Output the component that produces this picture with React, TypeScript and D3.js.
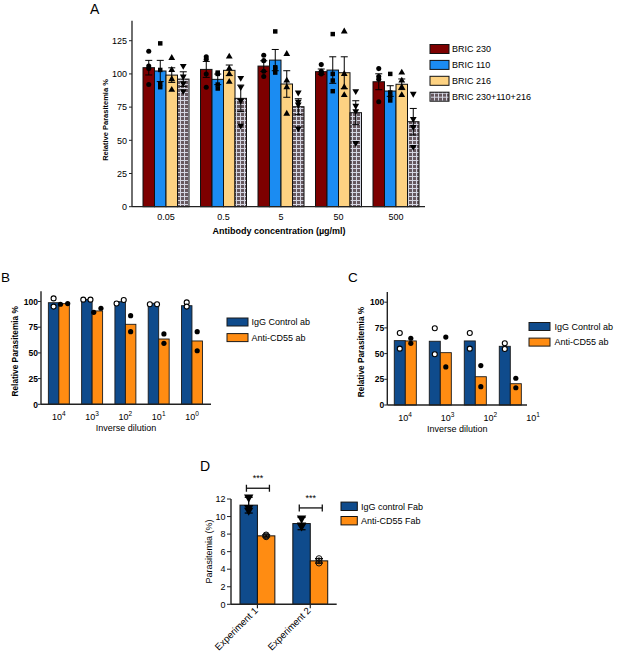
import * as d3 from "d3";
import React from "react";

const FONT = "'Liberation Sans', Arial, Helvetica, sans-serif";

// ---- panel A data
const concLabels = ["0.05", "0.5", "5", "50", "500"];
const bricSeries = ["BRIC 230", "BRIC 110", "BRIC 216", "BRIC 230+110+216"];
const bric230Mean = [104.7, 103.4, 105.9, 101.7, 94.1];
const bric110Mean = [102.2, 95.9, 110.4, 102.9, 87.1];
const bric216Mean = [99.1, 102.7, 92.4, 100.9, 92.2];
const comboMean = [96.1, 81.6, 75.3, 70.8, 64];
const bric230Sem = [5.5, 6, 4, 2, 6];
const bric110Sem = [8, 4, 8, 10, 4];
const bric216Sem = [5.5, 4, 10, 12, 4];
const comboSem = [5.5, 10, 6, 9, 10];
const bric230Pts = [[117, 106, 104, 92], [113, 111, 100, 90], [114, 110, 102, 98], [107, 102, 101, 100], [104, 98, 96, 79]];
const bric110Pts = [[123, 103, 93, 90], [101, 100, 92, 89], [132, 105, 104, 101], [130, 100, 95, 87], [100, 86, 83, 80]];
const bric216Pts = [[112, 103, 96, 88], [113, 104, 100, 94], [115, 95, 90, 70], [132, 100, 90, 84], [101, 95, 90, 84]];
const comboPts = [[106, 98, 93, 87], [97, 90, 80, 61], [86, 79, 77, 59], [87, 76, 72, 48], [85, 66, 60, 45]];
const ticksA = [0, 25, 50, 75, 100, 125];

// ---- panel B data
const dilB = ["4", "3", "2", "1", "0"];
const igGB = [98.8, 102, 99.8, 98.2, 95.9];
const cd55B = [97.9, 90.8, 77.8, 63.5, 61.6];
const igGBPts = [[103, 95], [101.8, 101.8], [98.1, 101.4], [97.3, 97.3], [99.1, 95]];
const cd55BPts = [[97.3, 98], [89.5, 93.4], [86.2, 70.6], [68.4, 59.3], [70.6, 52.1]];

// ---- panel C data
const dilC = ["4", "3", "2", "1"];
const igGC = [62.6, 62, 62.3, 57.1];
const cd55C = [62.3, 50.9, 27.5, 20.7];
const igGCPts = [[70, 54.8], [74.6, 49.3], [70, 54.8], [60, 54.5]];
const cd55CPts = [[64.9, 60], [66.1, 37], [38.3, 17.8], [26, 16.8]];
const ticksBC = [0, 25, 50, 75, 100];
const abLegend = ["IgG Control ab", "Anti-CD55 ab"];

// ---- panel D data
const expLabels = ["Experiment 1", "Experiment 2"];
const igGFab = [11.3, 9.2];
const igGFabErr = [0.9, 0.7];
const igGFabPts = [[12.2, 11.0, 10.7], [9.8, 9.0, 8.9]];
const cd55Fab = [7.8, 4.95];
const cd55FabErr = [0.12, 0.25];
const cd55FabPts = [[7.9, 7.8, 7.7], [5.2, 4.95, 4.7]];
const sigLabels = ["***", "***"];
const ticksD = [0, 2, 4, 6, 8, 10, 12];
const fabLegend = ["IgG control Fab", "Anti-CD55 Fab"];

const AXIS = "#222";
const NAVY = "#0f4b8c";
const ORANGE = "#ff8c12";

const symCircle = d3.symbol(d3.symbolCircle, 20)()!;
const symSquare = d3.symbol(d3.symbolSquare, 20)()!;
const symTri = d3.symbol(d3.symbolTriangle, 20)()!;
const symTriD = d3.symbol(d3.symbolTriangle, 38)()!;

function ErrBar({ x, y0, y1, cap, w = 1 }: any) {
  return (
    <g stroke="#000" strokeWidth={w}>
      <line x1={x} x2={x} y1={y0} y2={y1} />
      <line x1={x - cap} x2={x + cap} y1={y0} y2={y0} />
      <line x1={x - cap} x2={x + cap} y1={y1} y2={y1} />
    </g>
  );
}

function PanelA() {
  const x = d3.scaleBand(concLabels, [137.25, 424.75]).paddingInner(0.2).paddingOuter(0.1);
  const xs = d3.scaleBand(bricSeries, [0, x.bandwidth()]);
  const y = d3.scaleLinear([0, 140], [206.7, 20.8]);
  const means = [bric230Mean, bric110Mean, bric216Mean, comboMean];
  const sems = [bric230Sem, bric110Sem, bric216Sem, comboSem];
  const pts = [bric230Pts, bric110Pts, bric216Pts, comboPts];
  const fills = ["#7d0000", "#1b8cf2", "#fdd282", "url(#chk)"];
  const markers = [symCircle, symSquare, symTri, symTri];
  return (
    <g fontFamily={FONT}>
      <text x={90} y={14} fontSize={14}>A</text>
      {concLabels.map((c, gi) => (
        <g key={c}>
          {bricSeries.map((s, si) => {
            const bx = x(c)! + xs(s)!;
            const cx = bx + xs.bandwidth() / 2;
            const m = means[si][gi];
            const e = sems[si][gi];
            return (
              <g key={s}>
                <rect x={bx} y={y(m)} width={xs.bandwidth()} height={y(0) - y(m)} fill={fills[si]} stroke="#111" strokeWidth={1} />
                <ErrBar x={cx} y0={y(m + e)} y1={y(m - e)} cap={3.5} />
                {pts[si][gi].map((v, k) => (
                  <path key={k} d={markers[si]} transform={`translate(${cx},${y(v)})${si === 3 ? " rotate(180)" : ""}`} fill="#000" />
                ))}
              </g>
            );
          })}
        </g>
      ))}
      <line x1={132} x2={132} y1={y(0)} y2={y(140)} stroke={AXIS} strokeWidth={1.3} />
      <line x1={132} x2={425} y1={y(0)} y2={y(0)} stroke={AXIS} strokeWidth={1.3} />
      {ticksA.map((t) => (
        <g key={t}>
          <line x1={129} x2={132} y1={y(t)} y2={y(t)} stroke={AXIS} />
          <text x={127} y={y(t) + 3.2} fontSize={9} textAnchor="end">{t}</text>
        </g>
      ))}
      {concLabels.map((c) => (
        <text key={c} x={x(c)! + x.bandwidth() / 2} y={220} fontSize={9} textAnchor="middle">{c}</text>
      ))}
      <text x={279} y={233.5} fontSize={9} fontWeight="bold" textAnchor="middle">Antibody concentration (µg/ml)</text>
      <text transform={`translate(108,120) rotate(-90)`} fontSize={7.5} fontWeight="bold" textAnchor="middle">Relative Parasitemia %</text>
      {bricSeries.map((s, i) => (
        <g key={s} transform={`translate(430,${49 + i * 15.9})`}>
          <rect x={0} y={-4.5} width={19} height={9} fill={fills[i]} stroke="#111" />
          <text x={22} y={3.3} fontSize={9}>{s}</text>
        </g>
      ))}
    </g>
  );
}

function dots(vals: number[], cx: number, y: any, open: boolean, r: number) {
  const spread = Math.abs(vals[0] - vals[1]) < 4;
  return vals.map((v, k) => (
    <circle key={k} cx={spread ? cx + (k === 0 ? -3.6 : 3.6) : cx} cy={y(v)} r={r}
      fill={open ? "#fff" : "#000"} stroke="#000" strokeWidth={open ? 1.1 : 0} />
  ));
}

function DilutionPanel({ letter, lx, cats, igg, cd55, iggPts, cd55Pts, range, axisX, axisEnd, tickRange, yBase, legendX, legendTextX, legendY }: any) {
  const x = d3.scaleBand(cats, range).paddingInner(0.37).paddingOuter(0.185);
  const xs = d3.scaleBand(["igg", "cd55"], [0, x.bandwidth()]);
  const y = d3.scaleLinear([0, 110], [yBase, yBase - 113.1]);
  const xt = tickRange ? d3.scalePoint(cats, tickRange) : null;
  return (
    <g fontFamily={FONT}>
      <text x={lx} y={282} fontSize={13.5}>{letter}</text>
      {cats.map((c: string, i: number) => {
        const b1 = x(c)!;
        const b2 = x(c)! + xs.bandwidth();
        return (
          <g key={c}>
            <rect x={b1} y={y(igg[i])} width={xs.bandwidth()} height={y(0) - y(igg[i])} fill={NAVY} stroke="#1a1a1a" strokeWidth={0.9} />
            <rect x={b2} y={y(cd55[i])} width={xs.bandwidth()} height={y(0) - y(cd55[i])} fill={ORANGE} stroke="#1a1a1a" strokeWidth={0.9} />
            {dots(iggPts[i], b1 + xs.bandwidth() / 2, y, true, 2.5)}
            {dots(cd55Pts[i], b2 + xs.bandwidth() / 2, y, false, 2.6)}
          </g>
        );
      })}
      <line x1={axisX} x2={axisX} y1={y(0)} y2={y(110)} stroke={AXIS} strokeWidth={1.4} />
      <line x1={axisX} x2={axisEnd} y1={y(0)} y2={y(0)} stroke={AXIS} strokeWidth={1.4} />
      {ticksBC.map((t) => (
        <g key={t}>
          <line x1={axisX - 3} x2={axisX} y1={y(t)} y2={y(t)} stroke={AXIS} />
          <text x={axisX - 3} y={y(t) + 3.2} fontSize={8.5} fontWeight="bold" textAnchor="end">{t}</text>
        </g>
      ))}
      {cats.map((c: string) => (
        <text key={c} x={xt ? xt(c)! : x(c)! + x.bandwidth() / 2} y={yBase + 15.5} fontSize={9} textAnchor="middle">
          <tspan>10</tspan><tspan dy={-4} fontSize={6.5}>{c}</tspan>
        </text>
      ))}
      <text x={(axisX + axisEnd) / 2} y={yBase + 27} fontSize={9} textAnchor="middle">Inverse dilution</text>
      <text transform={`translate(${axisX - 23},${yBase - 53}) rotate(-90)`} fontSize={8.3} fontWeight="bold" textAnchor="middle">Relative Parasitemia %</text>
      {abLegend.map((s, i) => (
        <g key={s} transform={`translate(${legendX},${legendY + i * 15.6})`}>
          <rect x={0} y={-4} width={21} height={8} fill={i === 0 ? NAVY : ORANGE} stroke="#1a1a1a" />
          <text x={legendTextX} y={3.3} fontSize={9}>{s}</text>
        </g>
      ))}
    </g>
  );
}

function PanelD() {
  const x = d3.scaleBand(expLabels, [231, 336.7]).paddingInner(0.34).paddingOuter(0.17);
  const xs = d3.scaleBand(["igg", "cd55"], [0, x.bandwidth()]);
  const y = d3.scaleLinear([0, 12], [604.3, 499]);
  return (
    <g fontFamily={FONT}>
      <text x={200} y={471} fontSize={14}>D</text>
      {expLabels.map((c, i) => {
        const b1 = x(c)!;
        const b2 = b1 + xs.bandwidth();
        const c1 = b1 + xs.bandwidth() / 2;
        const c2 = b2 + xs.bandwidth() / 2;
        const gc = b1 + x.bandwidth() / 2;
        const top = Math.min(y(igGFab[i] + igGFabErr[i]), y(cd55Fab[i] + cd55FabErr[i]));
        const by = top - (i === 0 ? 9 : 9.5);
        return (
          <g key={c}>
            <rect x={b1} y={y(igGFab[i])} width={xs.bandwidth()} height={y(0) - y(igGFab[i])} fill={NAVY} stroke="#111" strokeWidth={1} />
            <rect x={b2} y={y(cd55Fab[i])} width={xs.bandwidth()} height={y(0) - y(cd55Fab[i])} fill={ORANGE} stroke="#111" strokeWidth={1} />
            <ErrBar x={c1} y0={y(igGFab[i] + igGFabErr[i])} y1={y(igGFab[i] - igGFabErr[i])} cap={4} w={1.3} />
            <ErrBar x={c2} y0={y(cd55Fab[i] + cd55FabErr[i])} y1={y(cd55Fab[i] - cd55FabErr[i])} cap={4} w={1.3} />
            {igGFabPts[i].map((v, k) => (
              <path key={k} d={symTriD} transform={`translate(${c1},${y(v)}) rotate(180)`} fill="#000" />
            ))}
            {cd55FabPts[i].map((v, k) => (
              <circle key={k} cx={c2} cy={y(v)} r={3} fill="none" stroke="#111" strokeWidth={1} />
            ))}
            <g stroke="#111" strokeWidth={1.3}>
              <line x1={gc - 11} x2={gc + 12} y1={by} y2={by} />
              <line x1={gc - 11} x2={gc - 11} y1={by - 3.5} y2={by + 3.5} />
              <line x1={gc + 12} x2={gc + 12} y1={by - 3.5} y2={by + 3.5} />
            </g>
            <text x={gc + 0.5} y={by - 7} fontSize={9} textAnchor="middle">{sigLabels[i]}</text>
            <line x1={gc} x2={gc} y1={y(0)} y2={y(0) + 4} stroke={AXIS} strokeWidth={1.2} />
            <text transform={`translate(${gc + 1},${y(0) + 7}) rotate(-45)`} fontSize={9.5} textAnchor="end">{c}</text>
          </g>
        );
      })}
      <line x1={231} x2={231} y1={y(0)} y2={y(12)} stroke={AXIS} strokeWidth={1.4} />
      <line x1={231} x2={336.7} y1={y(0)} y2={y(0)} stroke={AXIS} strokeWidth={1.4} />
      {ticksD.map((t) => (
        <g key={t}>
          <line x1={227} x2={231} y1={y(t)} y2={y(t)} stroke={AXIS} />
          <text x={225.5} y={y(t) + 3.2} fontSize={9} textAnchor="end">{t}</text>
        </g>
      ))}
      <text transform={`translate(211.5,551.5) rotate(-90)`} fontSize={9} textAnchor="middle">Parasitemia (%)</text>
      {fabLegend.map((s, i) => (
        <g key={s} transform={`translate(341,${506.3 + i * 14.4})`}>
          <rect x={0} y={-4.2} width={16.3} height={8.4} fill={i === 0 ? NAVY : ORANGE} stroke="#111" />
          <text x={20} y={3.3} fontSize={9}>{s}</text>
        </g>
      ))}
    </g>
  );
}

export default function App() {
  return (
    <svg width={617} height={658} style={{ position: "absolute", left: 0, top: 0, background: "#fff" }}>
      <defs>
        <pattern id="chk" width={4} height={4} patternUnits="userSpaceOnUse">
          <rect width={4} height={4} fill="#d4d6e2" />
          <rect x={1} y={1} width={3} height={3} fill="#66585f" />
        </pattern>
      </defs>
      <PanelA />
      <DilutionPanel letter="B" lx={1} cats={dilB} igg={igGB} cd55={cd55B} iggPts={igGBPts} cd55Pts={cd55BPts}
        range={[42.2, 208.6]} axisX={41} axisEnd={211} tickRange={null} yBase={404.3}
        legendX={227} legendTextX={24.5} legendY={322} />
      <DilutionPanel letter="C" lx={348} cats={dilC} igg={igGC} cd55={cd55C} iggPts={igGCPts} cd55Pts={cd55CPts}
        range={[387.8, 527.8]} axisX={387.3} axisEnd={527} tickRange={[405, 533]} yBase={405}
        legendX={529} legendTextX={25.5} legendY={326.5} />
      <PanelD />
    </svg>
  );
}
